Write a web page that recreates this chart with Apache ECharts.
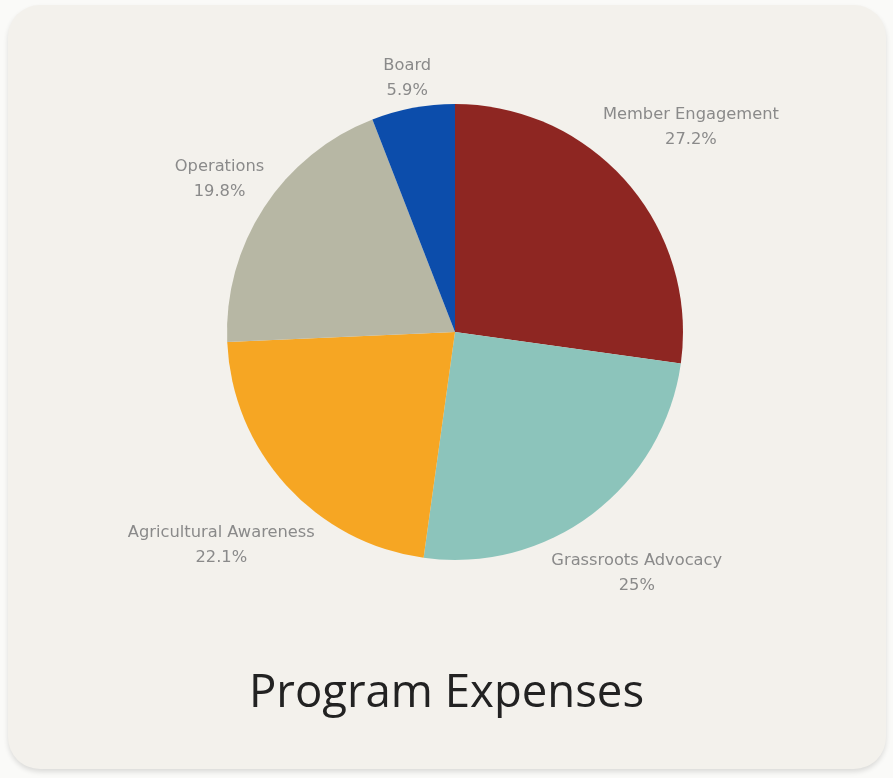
<!DOCTYPE html>
<html>
<head>
<meta charset="utf-8">
<script src="https://cdn.jsdelivr.net/npm/echarts@6/dist/echarts.min.js"></script>
<style>
  html, body { margin: 0; padding: 0; width: 893px; height: 778px; background: #fafaf8; overflow: hidden; }
  #card { position: absolute; left: 8px; top: 5px; width: 878px; height: 764px; border-radius: 32px; background: #f3f1ec; box-shadow: 0 3px 5px rgba(0,0,0,0.12); }
  #chart { position: absolute; left: 0; top: 0; width: 893px; height: 778px; }
</style>
</head>
<body>
<div id="card"></div>
<div id="chart"></div>
<script>
const categories = ['Member Engagement', 'Grassroots Advocacy', 'Agricultural Awareness', 'Operations', 'Board'];
const values = [27.2, 25, 22.1, 19.8, 5.9];
const colors = ['#8e2622', '#8cc4bb', '#f6a623', '#b7b7a4', '#0c4dab'];

const CX = 455, CY = 332, R = 228;
const total = values.reduce((a, b) => a + b, 0);
const midAngles = [];
let acc = 0;
values.forEach(v => { midAngles.push((acc + v / 2) / total * 2 * Math.PI); acc += v; });

const chart = echarts.init(document.getElementById('chart'), null, { renderer: 'canvas' });
chart.setOption({
  backgroundColor: 'transparent',
  animation: false,
  title: {
    text: 'Program Expenses',
    left: 'center',
    top: 666,
    textStyle: { fontFamily: 'Open Sans', fontSize: 45.5, fontWeight: 'normal', color: '#222222' }
  },
  series: [{
    type: 'pie',
    center: [CX, CY],
    radius: [0, R],
    startAngle: 90,
    clockwise: true,
    avoidLabelOverlap: false,
    data: categories.map((c, i) => ({ name: c, value: values[i], itemStyle: { color: colors[i] } })),
    itemStyle: { borderWidth: 0 },
    label: {
      show: true,
      position: 'outside',
      formatter: p => p.name + '\n' + p.value + '%',
      fontFamily: 'DejaVu Sans',
      fontSize: 16.3,
      lineHeight: 25,
      color: '#8a8a8a',
      align: 'center'
    },
    labelLine: { show: false, length: 0, length2: 0 },
    emphasis: { disabled: true },
    labelLayout: function (params) {
      const i = params.dataIndex;
      const a = midAngles[i];
      const s = Math.sin(a), c = Math.cos(a);
      const w = params.labelRect.width, h = params.labelRect.height;
      const d = R + 2 + Math.abs(s) * w / 2 + Math.abs(c) * h / 2;
      return { x: CX + d * s, y: CY - d * c + 1, align: 'center', verticalAlign: 'middle' };
    }
  }]
});
</script>
</body>
</html>
